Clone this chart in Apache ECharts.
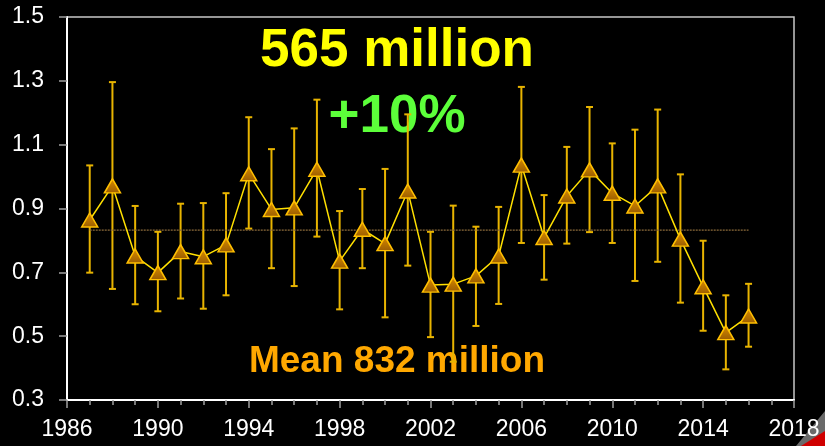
<!DOCTYPE html>
<html>
<head>
<meta charset="utf-8">
<script src="https://cdn.jsdelivr.net/npm/echarts@6/dist/echarts.min.js"></script>
<style>
html,body{margin:0;padding:0;background:#000;}
#c{width:825px;height:446px;}
</style>
</head>
<body>
<div id="c"></div>
<script>
var years = [1987,1988,1989,1990,1991,1992,1993,1994,1995,1996,1997,1998,1999,2000,2001,2002,2003,2004,2005,2006,2007,2008,2009,2010,2011,2012,2013,2014,2015,2016];
var values = [0.864,0.971,0.751,0.699,0.765,0.749,0.786,1.009,0.897,0.902,1.023,0.735,0.835,0.790,0.955,0.660,0.663,0.689,0.751,1.036,0.809,0.939,1.021,0.948,0.908,0.971,0.804,0.655,0.511,0.563];
var upper = [1.035,1.296,0.908,0.827,0.915,0.917,0.948,1.186,1.086,1.151,1.241,0.892,0.961,1.024,1.195,0.827,0.909,0.843,0.905,1.281,0.942,1.093,1.218,1.104,1.147,1.210,1.007,0.799,0.628,0.664];
var lower = [0.699,0.648,0.600,0.578,0.618,0.586,0.628,0.837,0.713,0.657,0.812,0.584,0.713,0.559,0.721,0.497,0.420,0.532,0.601,0.792,0.677,0.790,0.826,0.792,0.673,0.733,0.605,0.517,0.396,0.467];
var meanValue = 0.832;
var meanRange = [1987, 2016];
var xTickLabels = [1986,1990,1994,1998,2002,2006,2010,2014,2018];
var xMinorTicks = [];
for (var y = 1986; y <= 2018; y++) xMinorTicks.push(y);
var yTickLabels = [0.3,0.5,0.7,0.9,1.1,1.3,1.5];
var annTop = '565 million';
var annMid = '+10%';
var annBottom = 'Mean 832 million';

var chart = echarts.init(document.getElementById('c'), null, {renderer:'canvas'});
var font = '"Liberation Sans", Arial, sans-serif';

var main = years.map(function(yr,i){return [yr, values[i]];});
var errs = years.map(function(yr,i){return [yr, lower[i], upper[i]];});

chart.setOption({
  backgroundColor:'#000',
  animation:false,
  grid:{left:67, right:31, top:17, bottom:46, show:true, borderColor:'#c8c8c8', borderWidth:1.5, backgroundColor:'transparent'},
  xAxis:[{
    type:'value', min:1986, max:2018,
    axisLine:{show:true, onZero:false, lineStyle:{color:'#ffffff', width:2}},
    axisTick:{show:true, length:8, customValues:xTickLabels, lineStyle:{color:'#a0a0a0', width:1.5}},
    axisLabel:{customValues:xTickLabels, color:'#ffffff', fontSize:23, fontFamily:font, margin:18, showMinLabel:true, showMaxLabel:true,
      formatter:function(v){return String(Math.round(v));}},
    splitLine:{show:false}
  },{
    type:'value', min:1986, max:2018, position:'bottom', gridIndex:0,
    axisLine:{show:false, onZero:false},
    axisTick:{show:true, length:5, customValues:xMinorTicks, lineStyle:{color:'#a0a0a0', width:1.5}},
    axisLabel:{show:false},
    splitLine:{show:false}
  }],
  yAxis:{
    type:'value', min:0.3, max:1.5,
    axisLine:{show:true, onZero:false, lineStyle:{color:'#ffffff', width:2}},
    axisTick:{show:true, length:8, customValues:yTickLabels, lineStyle:{color:'#a0a0a0', width:1.5}},
    axisLabel:{customValues:yTickLabels, color:'#ffffff', fontSize:23, fontFamily:font, margin:23,
      formatter:function(v){return v.toFixed(1);}},
    splitLine:{show:false}
  },
  graphic:[
    {type:'text', z:0, style:{text:annTop, x:397, y:25, fill:'#ffff00', font:'bold 53px '+font, align:'center', verticalAlign:'top'}},
    {type:'text', z:0, style:{text:annMid, x:397, y:91, fill:'#5cff3a', font:'bold 53px '+font, align:'center', verticalAlign:'top'}},
    {type:'text', z:0, style:{text:annBottom, x:397, y:343, fill:'#ffa800', font:'bold 37px '+font, align:'center', verticalAlign:'top'}},
    {type:'polygon', z:0, shape:{points:[[825,411],[825,446],[796,446]]}, style:{fill:'#6a6a6a'}},
    {type:'polygon', z:0, shape:{points:[[825,431],[825,446],[801,446]]}, style:{fill:'#d00000'}}
  ],
  series:[
    {
      type:'custom', z:2,
      data:errs,
      renderItem:function(params, api){
        var x = api.value(0);
        var p1 = api.coord([x, api.value(2)]);
        var p2 = api.coord([x, api.value(1)]);
        var hw = 3.5;
        var st = {stroke:'#e8b400', lineWidth:2};
        return {type:'group', children:[
          {type:'line', shape:{x1:p1[0],y1:p1[1],x2:p2[0],y2:p2[1]}, style:st},
          {type:'line', shape:{x1:p1[0]-hw,y1:p1[1],x2:p1[0]+hw,y2:p1[1]}, style:st},
          {type:'line', shape:{x1:p2[0]-hw,y1:p2[1],x2:p2[0]+hw,y2:p2[1]}, style:st}
        ]};
      }
    },
    {
      type:'line', z:3, data:[[meanRange[0],meanValue],[meanRange[1],meanValue]],
      symbol:'none', lineStyle:{color:'#8a6a3a', width:1.2, type:[2,1]}, silent:true
    },
    {
      type:'line', z:4, data:main,
      symbol:'triangle', symbolSize:[16,14],
      lineStyle:{color:'#ffe000', width:1.5},
      itemStyle:{
        color:new echarts.graphic.LinearGradient(0,0,0,1,[{offset:0,color:'#d88c00'},{offset:1,color:'#9a5c00'}]),
        borderColor:'#ffbf00', borderWidth:1.5
      }
    }
  ]
});
</script>
</body>
</html>
